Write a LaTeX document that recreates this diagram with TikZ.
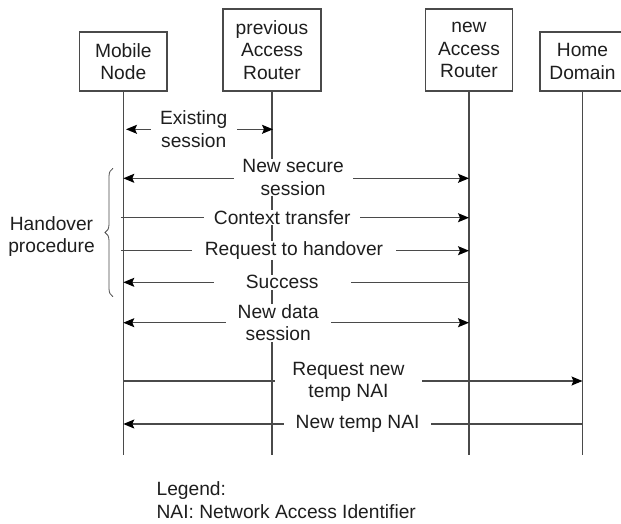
\documentclass[tikz,border=0pt]{standalone}
\usepackage{fontspec}
\setmainfont{Liberation Sans}
\usetikzlibrary{arrows.meta,decorations.pathreplacing}
\definecolor{ink}{HTML}{4A4A4A}
\definecolor{txt}{HTML}{1E1E1E}
\tikzset{
  lab/.style={font=\fontsize{19.2}{22.5}\selectfont, text=txt},
  entity/.style={lab, draw=ink, line width=1.2pt, fill=white, align=center, inner sep=0pt},
  lifeline/.style={draw=ink, line width=1.2pt},
  head/.tip={Stealth[length=11pt,width=9pt,inset=2pt,color=black]},
  msg/.style={draw=ink, line width=1.2pt, -head},
  bimsg/.style={draw=ink, line width=1.2pt, head-head},
  msglabel/.style={lab, fill=white, align=center, inner xsep=0pt, inner ysep=0.5pt},
}
\begin{document}
\begin{tikzpicture}[x=1pt,y=-1pt]
\useasboundingbox (0,0) rectangle (621,523);
\clip (0,0) rectangle (621,523);

% participants
\node[entity, minimum width=87.5pt, minimum height=59pt] (mn)  at (123.3,61.5) {Mobile\\Node};
\node[entity, minimum width=98pt,   minimum height=82pt] (par) at (272,50)     {previous\\Access\\Router};
\node[entity, minimum width=87pt,   minimum height=82pt] (nar) at (469,50)     {new\\Access\\Router};
\node[entity, minimum width=85pt,   minimum height=59pt] (hd)  at (582.5,61.5) {Home\\Domain};

% lifelines
\coordinate (bottom) at (0,455);
\draw[lifeline] (mn.south)  -- (mn.south |- bottom);
\draw[lifeline] (par.south) -- (par.south |- bottom);
\draw[lifeline] (nar.south) -- (nar.south |- bottom);
\draw[lifeline] (hd.south)  -- (hd.south |- bottom);

% message rows
\coordinate (r1) at (0,129.3);
\coordinate (r2) at (0,178.3);
\coordinate (r3) at (0,217.7);
\coordinate (r4) at (0,250.7);
\coordinate (r5) at (0,282.3);
\coordinate (r6) at (0,322.7);
\coordinate (r7) at (0,381);
\coordinate (r8) at (0,424);

\draw[bimsg, shorten <=2.7pt, shorten >=-1pt] (mn |- r1) -- (par |- r1);
\draw[bimsg] (mn |- r2) -- (nar |- r2);
\draw[msg, shorten <=-2.5pt] (mn |- r3) -- (nar |- r3);
\draw[msg, shorten <=-2.5pt] (mn |- r4) -- (nar |- r4);
\draw[msg]   (nar |- r5) -- (mn |- r5);
\draw[bimsg] (mn |- r6) -- (nar |- r6);
\draw[msg]   (mn |- r7) -- (hd |- r7);
\draw[msg]   (hd |- r8) -- (mn |- r8);

% message labels (white boxes break the lines behind them)
\node[msglabel, minimum width=86.3pt]  (l1) at (193.7,129.3) {Existing\\session};
\node[msglabel, minimum width=118.8pt] (l2) at (293.1,177.5) {New secure\\session};
\node[msglabel, minimum width=156.4pt] (l3) at (282.2,217.7) {Context transfer};
\node[msglabel, minimum width=204pt]   (l4) at (294,250.7)   {Request to handover};
\node[msglabel, minimum width=136.6pt] (l5) at (282.2,282.3) {Success};
\node[msglabel, minimum width=105pt]   (l6) at (278.2,322.7) {New data\\session};
\node[msglabel, minimum width=146.6pt] (l7) at (348.5,382)   {Request new\\temp NAI};
\node[msglabel, minimum width=146.5pt] (l8) at (357.6,424)   {New temp NAI};

% handover procedure brace
\coordinate (bt) at (113,168.3);
\coordinate (bb) at (113,296.7);
\draw[ink, line width=0.8pt, decorate, decoration={brace, amplitude=8pt}] (bb) -- (bt);
\node[lab, align=center, inner sep=0pt] (ho) at (51.5,236.7) {Handover\\procedure};

% legend
\node[lab, anchor=base west, inner sep=0pt] (leg)  at (156.4,495.8) {Legend:};
\node[lab, anchor=base west, inner sep=0pt] (legn) at (156.4,518.5) {NAI: Network Access Identifier};
\end{tikzpicture}
\end{document}
